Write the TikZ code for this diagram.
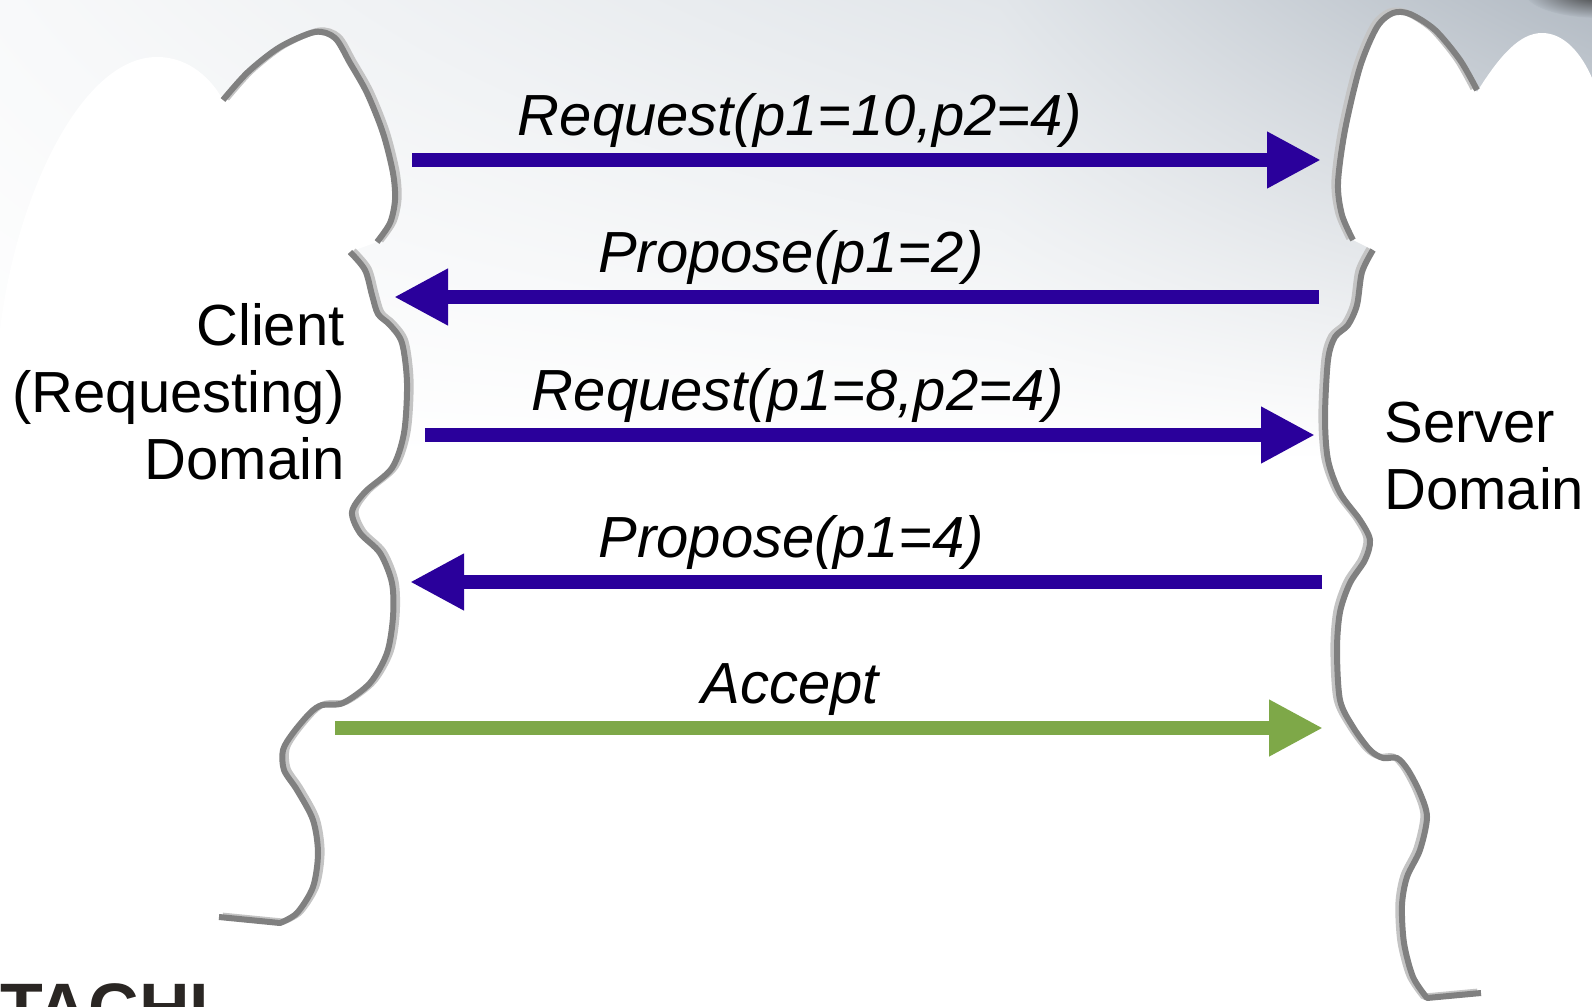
\documentclass[tikz,border=0pt]{standalone}
\usepackage{fontspec}
\setmainfont{Liberation Sans}
\usetikzlibrary{arrows.meta,shadings}

\definecolor{msgblue}{RGB}{42,0,155}
\definecolor{okgreen}{RGB}{126,168,72}
\definecolor{rimdark}{RGB}{128,128,128}
\definecolor{rimlight}{RGB}{196,196,196}
\definecolor{skyleft}{RGB}{248,249,250}
\definecolor{skymid}{RGB}{226,230,234}
\definecolor{skyright}{RGB}{178,186,195}
\definecolor{logoink}{RGB}{42,38,35}

% wavy edges of the two domains
\newcommand\leftrimtop{-- plot[smooth] coordinates{(223,100) (248,72) (280,47) (315,32)
  (335,38) (350,63) (367,93) (383,133) (393,173) (395,200) (390,223) (377,242)}}
\newcommand\leftrimlow{-- plot[smooth] coordinates{(350,252) (365,270) (372,295) (378,314)
  (390,325) (402,343) (407,383) (404,433) (392,468) (365,492) (352,512) (360,533)
  (380,553) (392,583) (393,617) (387,653) (370,683) (343,703) (322,705) (310,713)
  (293,733) (283,750) (284,770) (297,790) (313,820) (318,853) (313,887) (297,913)
  (280,923)} -- (219,917)}
\newcommand\rightrimtop{-- plot[smooth] coordinates{(1477,90) (1460,60) (1435,30) (1410,14)
  (1393,13) (1377,27) (1360,67) (1345,130) (1338,183) (1342,215) (1353,240)}}
\newcommand\rightrimlow{-- plot[smooth] coordinates{(1373,250) (1362,272) (1357,305)
  (1348,325) (1335,337) (1328,360) (1325,417) (1328,460) (1340,493) (1360,520)
  (1370,540) (1365,560) (1350,583) (1340,612) (1337,650) (1340,700) (1353,727)
  (1370,750) (1383,758) (1397,758) (1408,770) (1420,793) (1427,817) (1420,850)
  (1407,877) (1402,905) (1404,943) (1413,977) (1427,998)} -- (1481,993)}

\begin{document}
\begin{tikzpicture}[x=0.5pt,y=-0.5pt
	,>={Triangle[length=27pt,width=26.5pt]}
	,msg/.style={->,line width=7pt,draw=msgblue}
	,ok/.style={msg,draw=okgreen}
	,msglabel/.style={anchor=base,yshift=12.5pt,inner sep=0pt
	  ,font=\fontsize{29}{33.5}\selectfont\itshape}
	,domaintext/.style={inner sep=0pt,font=\fontsize{29}{33.5}\selectfont}
	,rim/.style={line width=3pt,draw=rimdark,line join=round}
	,rimshade/.style={line width=3pt,draw=rimlight,line join=round}]

  \clip (0,0) rectangle (1592,1007);
  % sky
  \fill[white] (0,0) rectangle (1592,1007);
  \shade[upper left=skyleft,upper right=skymid,lower left=white,lower right=white]
    (0,0) rectangle (1000,460);
  \shade[upper left=skymid,upper right=skyright,lower left=white,lower right=white]
    (1000,0) rectangle (1592,460);
  \shade[inner color=black!80,outer color=skyright] (1600,-8) ellipse (75 and 26);

  % clouds
  \fill[white] (0,330) .. controls (15,200) and (80,57) .. (157,57)
    .. controls (190,57) and (212,80) .. (223,100) \leftrimtop \leftrimlow
    -- (219,1007) -- (0,1007) -- cycle;
  \fill[white] (1477,92) .. controls (1500,55) and (1520,33) .. (1542,33)
    .. controls (1565,33) and (1582,55) .. (1592,78) -- (1592,1007)
    -- (1427,1007) -- (1427,998) -- (1413,977) -- (1404,943) -- (1402,905)
    -- (1407,877) -- (1420,850) -- (1427,817) -- (1420,793) -- (1408,770)
    -- (1397,758) -- (1383,758) -- (1370,750) -- (1353,727) -- (1340,700)
    -- (1337,650) -- (1340,612) -- (1350,583) -- (1365,560) -- (1370,540)
    -- (1360,520) -- (1340,493) -- (1328,460) -- (1325,417) -- (1328,360)
    -- (1335,337) -- (1348,325) -- (1357,305) -- (1362,272) -- (1373,250)
    -- (1353,240) -- (1342,215) -- (1338,183) -- (1345,130) -- (1360,67)
    -- (1377,27) -- (1393,13) -- (1410,14) -- (1435,30) -- (1460,60) -- cycle;

  % left edge
  \draw[rimshade,xshift=1.8pt,yshift=0.7pt] (223,100) \leftrimtop;
  \draw[rimshade,xshift=1.8pt,yshift=0.7pt] (350,252) \leftrimlow;
  \draw[rim] (223,100) \leftrimtop;
  \draw[rim] (350,252) \leftrimlow;
  % right edge
  \draw[rimshade,xshift=-1.8pt,yshift=0.7pt] (1477,90) \rightrimtop;
  \draw[rimshade,xshift=-1.8pt,yshift=0.7pt] (1373,250) \rightrimlow;
  \draw[rim] (1477,90) \rightrimtop;
  \draw[rim] (1373,250) \rightrimlow;

  % domains
  \node[domaintext,align=right,anchor=north east] (client) at (345,303)
    {Client\\(Requesting)\\Domain};
  \node[domaintext,align=left,anchor=north west] (server) at (1384,402)
    {Server\\Domain};

  % message ends, client side and server side
  \coordinate (c1) at (412,160);  \coordinate (s1) at (1321,160);
  \coordinate (s2) at (1319,297); \coordinate (c2) at (394,297);
  \coordinate (c3) at (425,435);  \coordinate (s3) at (1315,435);
  \coordinate (s4) at (1322,582); \coordinate (c4) at (410,582);
  \coordinate (c5) at (335,728);  \coordinate (s5) at (1323,728);

  \path (c1) edge[msg] node[msglabel,pos=.427] (m1) {Request(p1=10,p2=4)} (s1);
  \path (s2) edge[msg] node[msglabel,pos=.571] (m2) {Propose(p1=2)}       (c2);
  \path (c3) edge[msg] node[msglabel,pos=.419] (m3) {Request(p1=8,p2=4)}  (s3);
  \path (s4) edge[msg] node[msglabel,pos=.582] (m4) {Propose(p1=4)}       (c4);
  \path (c5) edge[ok ] node[msglabel,pos=.461] (m5) {Accept}              (s5);

  % logo, cut by the page
  \node[anchor=base west,inner sep=0pt,text=logoink
    ,font=\fontsize{35}{35}\selectfont\bfseries] (logo) at (0,1032) {TACHI};
\end{tikzpicture}
\end{document}
